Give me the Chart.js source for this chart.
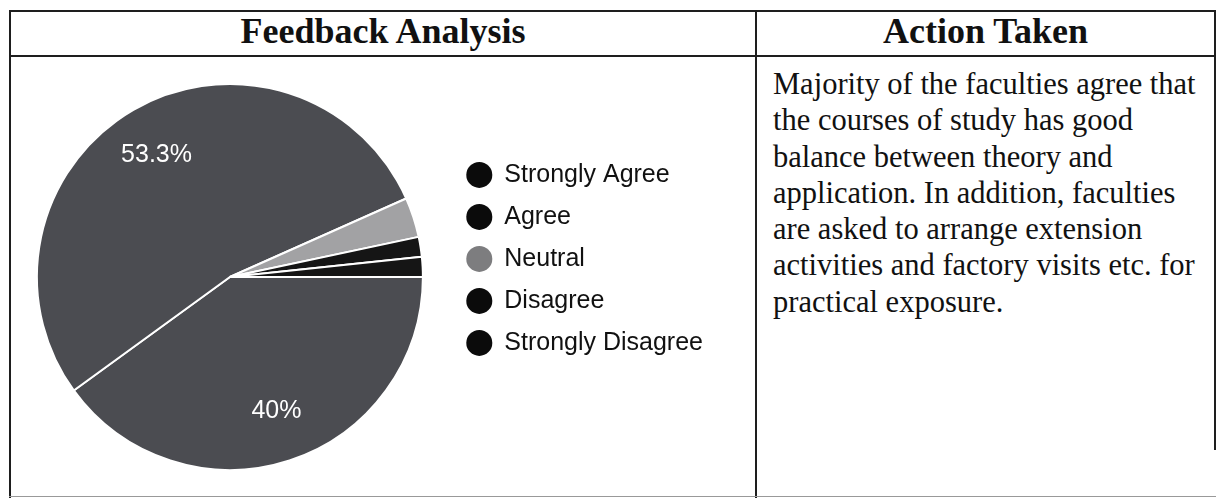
<!DOCTYPE html>
<html lang="en">
<head>
<meta charset="UTF-8">
<title>Feedback Analysis</title>
<script src="https://cdn.jsdelivr.net/npm/chart.js@4.4.1/dist/chart.umd.min.js"></script>
<style>
  body { margin: 0; width: 1220px; height: 499px; background: #fff; position: relative; overflow: hidden;
         font-family: "Liberation Serif", "Times New Roman", serif; color: #111; }
  .line { position: absolute; background: #1e1e1e; }
  .head { position: absolute; top: 11px; height: 44px; line-height: 40px; font-weight: bold; font-size: 36px; text-align: center; }
  #action { position: absolute; left: 773px; top: 66px; font-size: 30.5px; line-height: 36.3px; white-space: nowrap; }
  #chartBox { position: absolute; left: 0; top: 60px; width: 757px; height: 437px; }
</style>
</head>
<body>
  <div class="line" style="left:9px;top:10px;width:1207px;height:2px"></div>
  <div class="line" style="left:9px;top:55px;width:1207px;height:2px"></div>
  <div class="line" style="left:9px;top:10px;width:2px;height:488px"></div>
  <div class="line" style="left:755px;top:10px;width:2px;height:488px"></div>
  <div class="line" style="left:1214px;top:10px;width:2px;height:440px"></div>
  <div class="line" style="left:9px;top:496px;width:1207px;height:1px;background:#999"></div>

  <div class="head" style="left:11px;width:744px">Feedback Analysis</div>
  <div class="head" style="left:757px;width:457px">Action Taken</div>

  <div id="action">Majority of the faculties agree that<br>the courses of study has good<br>balance between theory and<br>application. In addition, faculties<br>are asked to arrange extension<br>activities and factory visits etc. for<br>practical exposure.</div>

  <div id="chartBox"><canvas id="pie"></canvas></div>

<script>
  // responses out of 60 faculties
  const labels = ['Strongly Agree', 'Agree', 'Neutral', 'Disagree', 'Strongly Disagree'];
  const responses = [24, 32, 2, 1, 1];
  const sliceColors = ['#4b4c51', '#4b4c51', '#a2a2a4', '#151515', '#151515'];
  const legendColors = ['#0b0b0b', '#0b0b0b', '#7d7d7f', '#0b0b0b', '#0b0b0b'];

  // white percentage text inside the big slices
  const pctLabels = {
    id: 'pctLabels',
    afterDatasetsDraw(chart) {
      const meta = chart.getDatasetMeta(0);
      const total = responses.reduce((a, b) => a + b, 0);
      const ctx = chart.ctx;
      ctx.save();
      ctx.font = '25px "Liberation Sans", Arial, sans-serif';
      ctx.fillStyle = '#fff';
      ctx.textAlign = 'center';
      ctx.textBaseline = 'middle';
      meta.data.forEach((arc, i) => {
        const pct = responses[i] / total * 100;
        if (pct < 10) return;
        const p = arc.getProps(['x', 'y', 'startAngle', 'endAngle', 'outerRadius'], true);
        const mid = (p.startAngle + p.endAngle) / 2 - 0.02;
        const r = p.outerRadius * 0.735;
        ctx.fillText(pct.toFixed(1).replace(/\.0$/, '') + '%', p.x + Math.cos(mid) * r, p.y + Math.sin(mid) * r);
      });
      ctx.restore();
    }
  };

  new Chart(document.getElementById('pie'), {
    type: 'pie',
    data: {
      labels: labels,
      datasets: [{
        data: responses,
        backgroundColor: sliceColors,
        borderColor: '#fff',
        borderWidth: 2
      }]
    },
    options: {
      responsive: true,
      maintainAspectRatio: false,
      animation: false,
      rotation: 90,
      layout: { padding: { left: 10, right: 44, top: 23, bottom: 26 } },
      plugins: {
        tooltip: { enabled: false },
        legend: {
          position: 'right',
          align: 'start',
          title: { display: true, text: ' ', font: { size: 12 }, padding: { top: 48, bottom: 0 } },
          labels: {
            usePointStyle: true,
            pointStyle: 'circle',
            boxWidth: 25,
            boxHeight: 18.4,
            padding: 17,
            color: '#111',
            font: { family: '"Liberation Sans", Arial, sans-serif', size: 25 },
            generateLabels: function() {
              return labels.map((t, i) => ({
                text: t,
                fillStyle: legendColors[i],
                strokeStyle: legendColors[i],
                lineWidth: 0,
                pointStyle: 'circle',
                hidden: false,
                index: i,
                textAlign: 'left',
                fontColor: '#111'
              }));
            }
          }
        }
      }
    },
    plugins: [pctLabels]
  });
</script>
</body>
</html>
